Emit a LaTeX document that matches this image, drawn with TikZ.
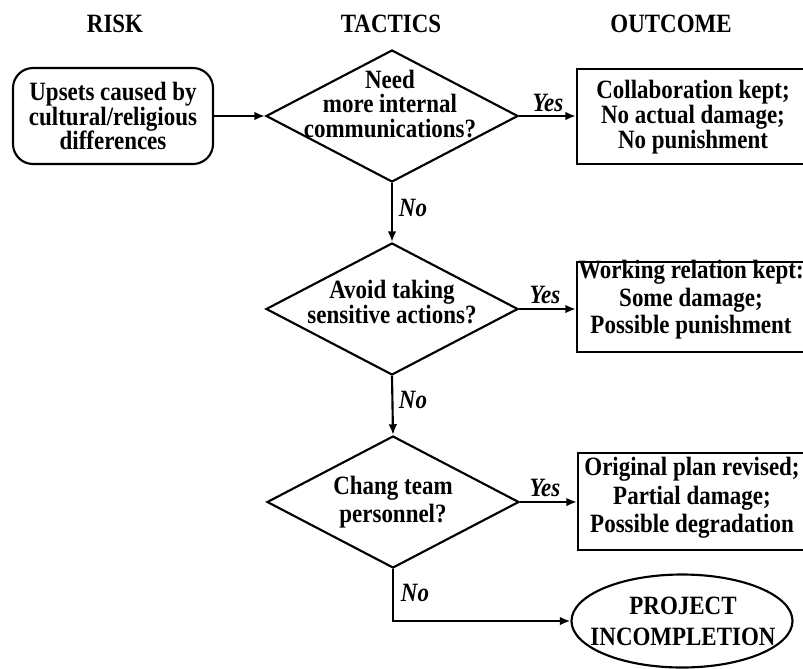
\documentclass[tikz,border=0pt]{standalone}
\usepackage{fontspec}
\setmainfont{Liberation Serif}[FakeStretch=0.87]
\usetikzlibrary{shapes.geometric,arrows.meta}
\begin{document}
\begin{tikzpicture}[x=0.75pt,y=-0.75pt,
  txt/.style={font=\bfseries\fontsize{19.8pt}{18.6pt}\selectfont, align=center, inner sep=0pt},
  lab/.style={font=\bfseries\itshape\fontsize{19.8pt}{18.6pt}\selectfont, inner sep=0pt},
  ln/.style={line width=1.6pt},
  arr/.style={ln,-{Latex[length=8pt,width=6.5pt]}},
  dia/.style={draw,ln,diamond,minimum width=189pt,minimum height=99pt,inner sep=0pt},
  obox/.style={draw,ln,rectangle,inner sep=0pt},
]
\useasboundingbox (0,0) rectangle (803,668);

% headers
\node[txt] (hrisk) at (115,24) {RISK};
\node[txt] (htac) at (391,24) {TACTICS};
\node[txt] (hout) at (671,24) {OUTCOME};

% risk box
\node[draw,ln,rounded corners=15pt,minimum width=150pt,minimum height=72pt,txt] (rb) at (113,116)
  {Upsets caused by\\cultural/religious\\differences};

% diamonds
\node[dia] (d1) at (392,116) {};
\node[txt] (t1) at (390,104) {Need\\more internal\\communications?};
\node[dia] (d2) at (392,309) {};
\node[txt] (t2) at (392,302) {Avoid taking\\sensitive actions?};
\node[dia] (d3) at (393,502) {};
\node[txt,font=\bfseries\fontsize{19.8pt}{21pt}\selectfont] (t3) at (393,502) {Chang team\\personnel?};

% outcome boxes
\node[obox,minimum width=174pt,minimum height=71.25pt] (b1) at (693,116.5) {};
\node[txt,font=\bfseries\fontsize{19.8pt}{18.9pt}\selectfont] (bt1) at (693,117)
  {Collaboration kept;\\No actual damage;\\No punishment};
\node[obox,minimum width=171pt,minimum height=67.5pt] (b2) at (691,307) {};
\node[txt,font=\bfseries\fontsize{19.8pt}{20.6pt}\selectfont] (bt2) at (691,300)
  {Working relation kept:\\Some damage;\\Possible punishment};
\node[obox,minimum width=171pt,minimum height=72.75pt] (b3) at (692,501.5) {};
\node[txt,font=\bfseries\fontsize{19.8pt}{21.5pt}\selectfont] (bt3) at (692,498)
  {Original plan revised;\\Partial damage;\\Possible degradation};

% ellipse
\node[draw,ln,ellipse,minimum width=165.75pt,minimum height=69.75pt,inner sep=0pt] (el) at (682,621) {};
\node[txt,font=\bfseries\fontsize{19.8pt}{23.25pt}\selectfont] (elt) at (683,621.5) {PROJECT\\INCOMPLETION};

% connectors
\draw[arr] (rb.east) -- (d1.west);
\draw[arr] (d1.east) -- (b1.west |- d1.east);
\draw[arr] (d1.south) -- (d2.north);
\draw[arr] (d2.east) -- (b2.west |- d2.east);
\draw[arr] (d2.south) -- (d3.north);
\draw[arr] (d3.east) -- (b3.west |- d3.east);
\draw[arr] (d3.south) |- (el.west);

% labels
\node[lab] (y1) at (548,103) {Yes};
\node[lab] (y2) at (545,295) {Yes};
\node[lab] (y3) at (545,488) {Yes};
\node[lab] (n1) at (413,208) {No};
\node[lab] (n2) at (413,400) {No};
\node[lab] (n3) at (415,593) {No};
\end{tikzpicture}
\end{document}
